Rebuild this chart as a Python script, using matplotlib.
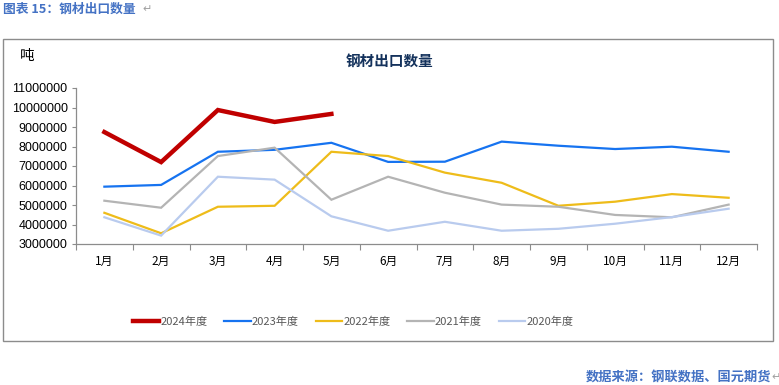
import matplotlib
matplotlib.use("Agg")
import matplotlib.pyplot as plt
from matplotlib.patches import Rectangle
from matplotlib.ticker import FixedLocator, FuncFormatter
import numpy as np

plt.rcParams['font.family'] = ['Noto Sans CJK SC', 'DejaVu Sans']

# data (tonnes)
months = ['1月', '2月', '3月', '4月', '5月', '6月', '7月', '8月', '9月', '10月', '11月', '12月']
y2024 = [8740000, 7200000, 9870000, 9260000, 9670000]
y2023 = [5940000, 6030000, 7730000, 7830000, 8190000, 7210000, 7220000, 8250000, 8040000, 7870000, 7990000, 7730000]
y2022 = [4600000, 3550000, 4910000, 4960000, 7730000, 7510000, 6660000, 6140000, 4960000, 5170000, 5560000, 5370000]
y2021 = [5220000, 4860000, 7510000, 7940000, 5270000, 6450000, 5630000, 5020000, 4910000, 4490000, 4370000, 5020000]
y2020 = [4370000, 3430000, 6450000, 6300000, 4420000, 3680000, 4140000, 3680000, 3780000, 4040000, 4380000, 4810000]
yticks = [3000000, 4000000, 5000000, 6000000, 7000000, 8000000, 9000000, 10000000, 11000000]

series = [
    ('2024年度', y2024, '#C00000', 3.2),
    ('2023年度', y2023, '#1673F0', 1.6),
    ('2022年度', y2022, '#EEBC1A', 1.6),
    ('2021年度', y2021, '#B4B4B4', 1.6),
    ('2020年度', y2020, '#B9CBEE', 1.6),
]

fig = plt.figure(figsize=(7.79, 3.85), dpi=100)
W, H = 779, 385

# outer chart frame
fig.patches.append(Rectangle((3 / W, 1 - 341 / H), 770 / W, 302 / H, transform=fig.transFigure,
                             fill=False, edgecolor='#8C8C8C', linewidth=1.0))

ax = fig.add_axes([76 / W, 1 - 244 / H, 681 / W, 156 / H])
x = np.arange(len(months))
for name, vals, col, lw in series:
    ax.plot(x[:len(vals)], vals, color=col, linewidth=lw, label=name, solid_joinstyle='miter')

ax.set_xlim(-0.5, 11.5)
ax.set_ylim(3000000, 11000000)
ax.set_yticks(yticks)
ax.yaxis.set_major_formatter(FuncFormatter(lambda v, p: '%d' % v))
ax.set_xticks(x)
ax.set_xticklabels(months)
ax.xaxis.set_minor_locator(FixedLocator(np.arange(-0.5, 12, 1)))
ax.tick_params(axis='x', which='major', length=0, pad=8, labelsize=8.5, colors='#000000')
ax.tick_params(axis='x', which='minor', length=4, width=0.8, color='#8C8C8C', direction='out')
ax.tick_params(axis='y', length=3, width=0.8, color='#8C8C8C', labelsize=9, pad=3)
for lab in ax.get_yticklabels():
    lab.set_fontfamily(['Liberation Sans', 'DejaVu Sans'])
for s in ['top', 'right']:
    ax.spines[s].set_visible(False)
for s in ['left', 'bottom']:
    ax.spines[s].set_color('#8C8C8C')
    ax.spines[s].set_linewidth(0.9)

# texts
fig.text(3 / W, 1 - 9 / H, '图表 15：钢材出口数量', color='#4472C4', fontsize=9.2, fontweight='bold', va='center', ha='left')
fig.text(142 / W, 1 - 9 / H, '↵', color='#A0A0A0', fontsize=8, va='center', ha='left')
fig.text(20 / W, 1 - 56 / H, '吨', color='#000000', fontsize=10.5, va='center', ha='left')
fig.text(390 / W, 1 - 61 / H, '钢材出口数量', color='#14325C', fontsize=10.5, fontweight='bold', va='center', ha='center')
fig.text(771 / W, 1 - 377 / H, '数据来源：钢联数据、国元期货', color='#4472C4', fontsize=9.5, fontweight='bold', va='center', ha='right')
fig.text(771 / W, 1 - 377 / H, '↵', color='#A0A0A0', fontsize=8, va='center', ha='left')

leg = fig.legend(loc='center', bbox_to_anchor=(353 / W, 1 - 322 / H), ncol=5, frameon=False,
                 handlelength=2.4, handletextpad=0.1, columnspacing=1.5, fontsize=8)
for t in leg.get_texts():
    t.set_color('#595959')

fig.savefig('out.png', dpi=100)
